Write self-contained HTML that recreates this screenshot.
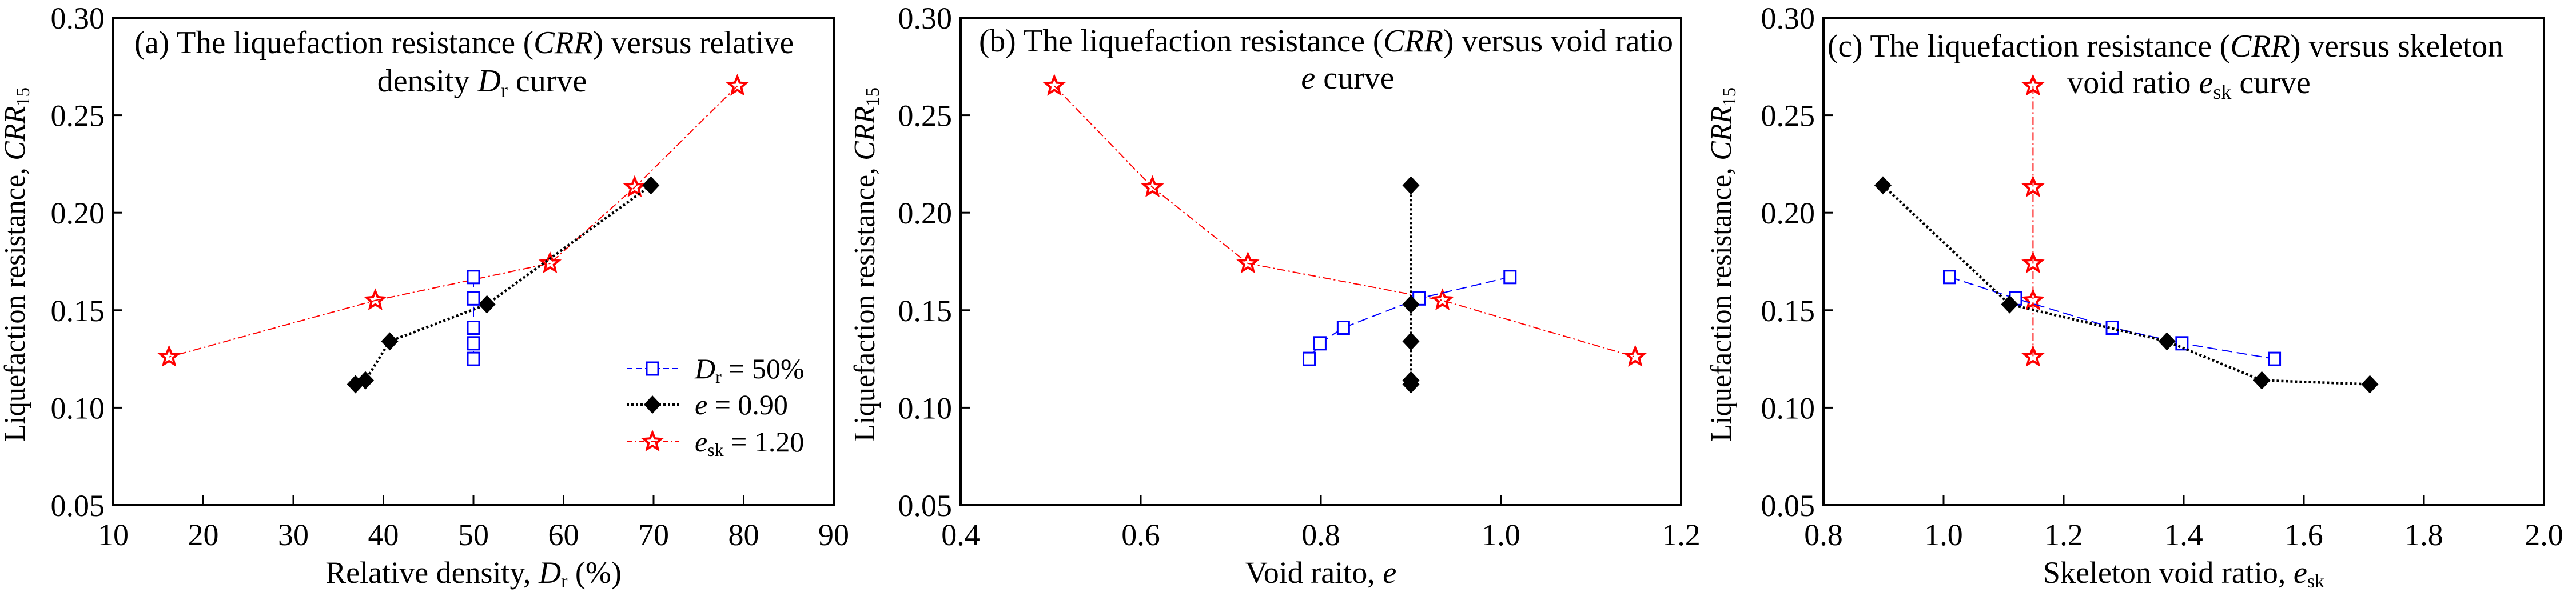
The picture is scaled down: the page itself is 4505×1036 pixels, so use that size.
<!DOCTYPE html>
<html><head><meta charset="utf-8"><style>
html,body{margin:0;padding:0;background:#fff;}
svg, svg text{font-family:"Liberation Serif","Times New Roman",serif;}
svg{display:block;}
</style></head><body>
<svg id="chart" width="4505" height="1036" viewBox="0 0 4505 1036" xmlns="http://www.w3.org/2000/svg" font-family="Liberation Serif, serif"></svg>
<script>
// ---- data ----
const crrSquares = [0.167, 0.156, 0.141, 0.133, 0.125];
const crrDiamonds = [0.214, 0.153, 0.134, 0.114, 0.112];
const crrStars = [0.265, 0.213, 0.174, 0.155, 0.126];
// panel a: relative density
const drSquares = [50, 50, 50, 50, 50];
const drDiamonds = [69.7, 51.5, 40.7, 38.0, 36.9];
const drStars = [79.3, 67.9, 58.5, 39.1, 16.2];
// panel b: void ratio
const eSquares = [1.010, 0.909, 0.825, 0.799, 0.787];
const eDiamonds = [0.90, 0.90, 0.90, 0.90, 0.90];
const eStars = [0.504, 0.613, 0.719, 0.935, 1.149];
// panel c: skeleton void ratio
const eskSquares = [1.010, 1.120, 1.281, 1.397, 1.551];
const eskDiamonds = [0.899, 1.110, 1.372, 1.530, 1.710];
const eskStars = [1.149, 1.149, 1.149, 1.149, 1.149];
// ticks
const yTicks = [0.05, 0.10, 0.15, 0.20, 0.25, 0.30];
const yTickLabels = ["0.05", "0.10", "0.15", "0.20", "0.25", "0.30"];
const xTicksA = [10, 20, 30, 40, 50, 60, 70, 80, 90];
const xTickLabelsA = ["10", "20", "30", "40", "50", "60", "70", "80", "90"];
const xTicksB = [0.4, 0.6, 0.8, 1.0, 1.2];
const xTickLabelsB = ["0.4", "0.6", "0.8", "1.0", "1.2"];
const xTicksC = [0.8, 1.0, 1.2, 1.4, 1.6, 1.8, 2.0];
const xTickLabelsC = ["0.8", "1.0", "1.2", "1.4", "1.6", "1.8", "2.0"];

const NS = "http://www.w3.org/2000/svg";
const svg = document.getElementById('chart');
const FF = '"Liberation Serif", "Times New Roman", serif';
function mk(tag, attrs, parent) {
  const e = document.createElementNS(NS, tag);
  for (const k in attrs) e.setAttribute(k, attrs[k]);
  if (tag === 'text') e.setAttribute('font-family', FF);
  (parent || svg).appendChild(e);
  return e;
}
const TOP = 31, BOT = 884, W = 1260;

function starPts(cx, cy, R) {
  const r = R * 0.45; let p = [];
  for (let i = 0; i < 10; i++) {
    const a = -Math.PI / 2 + i * Math.PI / 5, rr = i % 2 ? r : R;
    p.push((cx + rr * Math.cos(a)).toFixed(1) + ',' + (cy + rr * Math.sin(a)).toFixed(1));
  }
  return p.join(' ');
}

function panel(id, left, xmin, xmax, xTicks, xLabels, series, titleLines, xTitleParts, yLabelX) {
  const g = mk('g', {});
  
  
  const xs = v => left + (v - xmin) / (xmax - xmin) * W;
  const ys = v => BOT - (v - 0.05) / 0.25 * (BOT - TOP);
  xTicks.forEach((t, i) => {
    const tk = mk('line', {x1: xs(t), x2: xs(t), y1: BOT, y2: BOT - 17, stroke: '#000', 'stroke-width': 3}, g);
    
    
    const tl = mk('text', {x: xs(t), y: 954, 'text-anchor': 'middle', 'font-size': 54}, g);
    
    
    tl.textContent = xLabels[i];
  });
  yTicks.forEach((t, i) => {
    const tk = mk('line', {x1: left, x2: left + 16, y1: ys(t), y2: ys(t), stroke: '#000', 'stroke-width': 3}, g);
    
    
    const tl = mk('text', {x: left - 15, y: ys(t) + 19, 'text-anchor': 'end', 'font-size': 54}, g);
    
    
    tl.textContent = yTickLabels[i];
  });
  series.forEach(s => {
    const pts = s.x.map((v, i) => xs(v).toFixed(1) + ',' + ys(s.y[i]).toFixed(1)).join(' ');
    const pl = mk('polyline', {points: pts, fill: 'none', stroke: s.color, 'stroke-width': s.sw, 'stroke-dasharray': s.dash}, g);
    
    
    s.x.forEach((v, i) => {
      const cx = xs(v), cy = ys(s.y[i]);
      let m;
      if (s.marker === 'square') m = mk('rect', {x: cx - 10, y: cy - 11, width: 20, height: 22, fill: '#fff', stroke: '#0000ff', 'stroke-width': 3}, g);
      else if (s.marker === 'diamond') m = mk('polygon', {points: `${cx},${cy-16} ${cx+15},${cy} ${cx},${cy+16} ${cx-15},${cy}`, fill: '#000'}, g);
      else m = mk('polygon', {points: starPts(cx, cy, 16), fill: 'none', stroke: '#ff0000', 'stroke-width': 4}, g);
      
      
    });
  });
  const fr = mk('rect', {x: left, y: TOP, width: W, height: BOT - TOP, fill: 'none', stroke: '#000', 'stroke-width': 4}, g);
  
  
  titleLines.forEach(tl => {
    const t = mk('text', {x: tl.x, y: tl.y, 'font-size': 56, 'text-anchor': tl.anchor}, g);
    if (tl.len) { t.setAttribute('textLength', tl.len); t.setAttribute('lengthAdjust', 'spacingAndGlyphs'); }
    
    
    t.innerHTML = tl.html;
  });
  const xt = mk('text', {x: left + W / 2, y: 1020, 'font-size': 54, 'text-anchor': 'middle'}, g);
  
  
  xt.innerHTML = xTitleParts;
  const yt = mk('text', {x: 0, y: 0, 'font-size': 52, 'text-anchor': 'middle', textLength: 620, lengthAdjust: 'spacingAndGlyphs', transform: `translate(${yLabelX + 17},463) rotate(-90)`}, g);
  
  
  yt.innerHTML = 'Liquefaction resistance, <tspan font-style="italic">CRR</tspan><tspan font-size="34" dy="8">15</tspan>';
  return {xs, ys, g};
}
const sq = (x) => ({name: 'dr50-square', x, y: crrSquares, color: '#0000ff', sw: 2, dash: '18,8', marker: 'square'});
const dm = (x) => ({name: 'e090-diamond', x, y: crrDiamonds, color: '#000', sw: 4.5, dash: '4,4', marker: 'diamond'});
const st = (x) => ({name: 'esk120-star', x, y: crrStars, color: '#ff0000', sw: 2, dash: '14,5,3,5', marker: 'star'});

panel('a', 198, 10, 90, xTicksA, xTickLabelsA, [st(drStars), dm(drDiamonds), sq(drSquares)],
  [{x: 235, y: 93, anchor: 'start', len: 1153, html: '(a) The liquefaction resistance (<tspan font-style="italic">CRR</tspan>) versus relative'},
   {x: 843, y: 160, anchor: 'middle', html: 'density <tspan font-style="italic">D</tspan><tspan font-size="36" dy="10">r</tspan><tspan dy="-10"> curve</tspan>'}],
  'Relative density, <tspan font-style="italic">D</tspan><tspan font-size="34" dy="8">r</tspan><tspan dy="-8"> (%)</tspan>', 26);
panel('b', 1680, 0.4, 1.2, xTicksB, xTickLabelsB, [st(eStars), sq(eSquares), dm(eDiamonds)],
  [{x: 1712, y: 90, anchor: 'start', len: 1214, html: '(b) The liquefaction resistance (<tspan font-style="italic">CRR</tspan>) versus void ratio'},
   {x: 2357, y: 155, anchor: 'middle', html: '<tspan font-style="italic">e</tspan> curve'}],
  'Void raito, <tspan font-style="italic">e</tspan>', 1512);
panel('c', 3189, 0.8, 2.0, xTicksC, xTickLabelsC, [st(eskStars), sq(eskSquares), dm(eskDiamonds)],
  [{x: 3196, y: 99, anchor: 'start', len: 1182, html: '(c)  The liquefaction resistance (<tspan font-style="italic">CRR</tspan>) versus skeleton'},
   {x: 3828, y: 163, anchor: 'middle', html: 'void ratio <tspan font-style="italic">e</tspan><tspan font-size="36" dy="10">sk</tspan><tspan dy="-10"> curve</tspan>'}],
  'Skeleton void ratio, <tspan font-style="italic">e</tspan><tspan font-size="34" dy="8">sk</tspan>', 3010);

const lg = mk('g', {});


const legendItems = [
  {y: 645, color: '#0000ff', sw: 2, dash: '10,6', marker: 'square', html: '<tspan font-style="italic">D</tspan><tspan font-size="32" dy="8">r</tspan><tspan dy="-8"> = 50%</tspan>'},
  {y: 708, color: '#000', sw: 4.5, dash: '4,4', marker: 'diamond', html: '<tspan font-style="italic">e</tspan> = 0.90'},
  {y: 773, color: '#ff0000', sw: 2, dash: '10,4,3,4', marker: 'star', html: '<tspan font-style="italic">e</tspan><tspan font-size="32" dy="8">sk</tspan><tspan dy="-8"> = 1.20</tspan>'}
];
legendItems.forEach(it => {
  const e = mk('g', {}, lg);
  
  
  mk('line', {x1: 1096, x2: 1187, y1: it.y, y2: it.y, stroke: it.color, 'stroke-width': it.sw, 'stroke-dasharray': it.dash}, e);
  const cx = 1141, cy = it.y;
  if (it.marker === 'square') mk('rect', {x: cx - 10, y: cy - 11, width: 20, height: 22, fill: '#fff', stroke: '#0000ff', 'stroke-width': 3}, e);
  else if (it.marker === 'diamond') mk('polygon', {points: `${cx},${cy-16} ${cx+15},${cy} ${cx},${cy+16} ${cx-15},${cy}`, fill: '#000'}, e);
  else mk('polygon', {points: starPts(cx, cy, 16), fill: 'none', stroke: '#ff0000', 'stroke-width': 4}, e);
  const t = mk('text', {x: 1215, y: it.y + 17, 'font-size': 50}, e);
  t.innerHTML = it.html;
});
</script>
</body></html>
